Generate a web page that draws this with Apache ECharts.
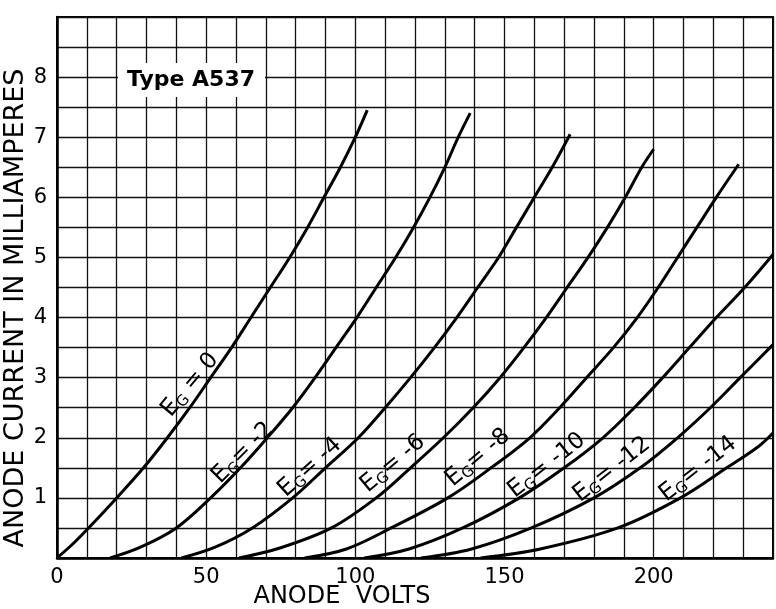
<!DOCTYPE html>
<html><head><meta charset="utf-8">
<script src="https://cdn.jsdelivr.net/npm/echarts@6/dist/echarts.min.js"></script>
<style>html,body{margin:0;padding:0;background:#fff}#c{width:776px;height:609px}</style>
</head><body><div id="c"></div><script>
// ---- data: anode volts / anode current (mA) for each grid voltage ----
const eg0  = [[0,0],[5,0.22],[10,0.47],[20,1],[29,1.5],[37,2],[44.5,2.5],[51.5,3],[58.5,3.5],[65,4],[71.5,4.5],[78,5],[84,5.5],[89.5,6],[95,6.5],[100,7],[104,7.45]];
const eg2  = [[17.8,0],[28,0.18],[40,0.5],[51.5,1],[61.5,1.5],[70.5,2],[79,2.5],[86.5,3],[93.5,3.5],[100.5,4],[107,4.5],[113.5,5],[119.5,5.5],[125,6],[130,6.5],[134.5,7],[138.5,7.4]];
const eg4  = [[41.7,0],[53,0.18],[65.5,0.5],[79,1],[90,1.5],[101,2],[110,2.5],[118.5,3],[126.5,3.5],[134,4],[141,4.5],[148,5],[154,5.5],[160,6],[166,6.5],[172,7.05]];
const eg6  = [[61,0],[75,0.17],[92,0.5],[107,1],[118.5,1.5],[129.5,2],[139.5,2.5],[148.5,3],[156.5,3.5],[164,4],[171,4.5],[178,5],[184.5,5.5],[190.5,6],[196,6.5],[200,6.8]];
const eg8  = [[83,0],[97,0.15],[112,0.5],[131,1],[145.5,1.5],[158.5,2],[168.5,2.5],[177.5,3],[186.5,3.5],[194.5,4],[201.5,4.5],[208,5],[214.5,5.5],[221,6],[228.5,6.55]];
const eg10 = [[103,0],[118,0.15],[136,0.5],[155,1],[170,1.5],[183,2],[193.5,2.5],[203,3],[212,3.5],[221,4],[230.5,4.5],[240,5.05]];
const eg12 = [[122,0],[139,0.15],[159,0.5],[180,1],[195.5,1.5],[208,2],[219,2.5],[229,3],[240,3.55]];
const eg14 = [[142,0],[162,0.15],[188,0.5],[209,1],[224.5,1.5],[235,1.85],[240,2.08]];
const curves = [eg0, eg2, eg4, eg6, eg8, eg10, eg12, eg14];
const gridVolts = ['0', '-2', '-4', '-6', '-8', '-10', '-12', '-14'];
const xTickLabels = [0, 50, 100, 150, 200];
const yTickLabels = [1, 2, 3, 4, 5, 6, 7, 8];

// ---- annotation placement (data coords of label centres, angle in degrees) ----
const labelV = [44.6, 62.3, 84.8, 112.6, 141.1, 164.2, 186, 214.9];
const labelI = [2.88, 1.75, 1.51, 1.57, 1.67, 1.54, 1.47, 1.48];
const labelAngle = [50, 45, 42, 40, 40, 38, 38, 38];

const FONT = '"DejaVu Sans", "Liberation Sans", sans-serif';
const chart = echarts.init(document.getElementById('c'), null, {renderer: 'canvas', width: 776, height: 609});

const option = {
  animation: false,
  backgroundColor: '#fff',
  grid: {left: 57, right: 3, top: 17, bottom: 51, show: true, borderColor: '#000', borderWidth: 2, backgroundColor: 'transparent'},
  xAxis: {
    type: 'value', min: 0, max: 240, interval: 10,
    axisLine: {show: true, lineStyle: {color: '#000', width: 2.5}},
    axisTick: {show: false},
    splitLine: {show: true, lineStyle: {color: '#111', width: 1.3}},
    axisLabel: {
      color: '#000', fontFamily: FONT, fontSize: 21, margin: 9,
      formatter: v => xTickLabels.indexOf(v) >= 0 ? String(v) : ''
    }
  },
  yAxis: {
    type: 'value', min: 0, max: 9, interval: 0.5,
    axisLine: {show: true, lineStyle: {color: '#000', width: 2.5}},
    axisTick: {show: false},
    splitLine: {show: true, lineStyle: {color: '#111', width: 1.3}},
    axisLabel: {
      color: '#000', fontFamily: FONT, fontSize: 21, margin: 10,
      formatter: v => yTickLabels.indexOf(v) >= 0 ? String(v) : ''
    }
  },
  series: curves.map((d, k) => ({
    type: 'line', name: 'EG = ' + gridVolts[k], data: d,
    symbol: 'none', showSymbol: false, smooth: 0.35,
    lineStyle: {color: '#000', width: 3}, z: 5
  }))
};
chart.setOption(option);

const graphics = [
  {type: 'text', x: 342, y: 597, z: 10,
   style: {text: 'ANODE  VOLTS', fontFamily: FONT, fontSize: 24, fill: '#000', align: 'center', verticalAlign: 'middle'}},
  {type: 'text', x: 16, y: 308, rotation: Math.PI / 2, z: 10,
   style: {text: 'ANODE CURRENT IN MILLIAMPERES', fontFamily: FONT, fontSize: 27, fill: '#000', align: 'center', verticalAlign: 'middle'}},
  {type: 'rect', shape: {x: 118, y: 63, width: 147, height: 34}, z: 9, style: {fill: '#fff'}},
  {type: 'text', x: 191, y: 80, z: 10,
   style: {text: 'Type A537', fontFamily: FONT, fontSize: 22, fontWeight: 'bold', fill: '#000', align: 'center', verticalAlign: 'middle'}}
];
gridVolts.forEach((g, k) => {
  const p = chart.convertToPixel({gridIndex: 0}, [labelV[k], labelI[k]]);
  const tail = k === 0 ? ' = 0' : '= ' + g;
  graphics.push({
    type: 'text', x: p[0], y: p[1], rotation: labelAngle[k] * Math.PI / 180, z: 10,
    style: {
      text: '{e|E}{g|G}{v|' + tail + '}',
      align: 'center', verticalAlign: 'middle',
      rich: {
        e: {fontFamily: FONT, fontSize: 24, lineHeight: 26, fill: '#000', color: '#000'},
        g: {fontFamily: FONT, fontSize: 15, lineHeight: 20, verticalAlign: 'bottom', fill: '#000', color: '#000'},
        v: {fontFamily: FONT, fontSize: 23, lineHeight: 26, fill: '#000', color: '#000'}
      }
    }
  });
});
chart.setOption({graphic: graphics});
</script></body></html>
